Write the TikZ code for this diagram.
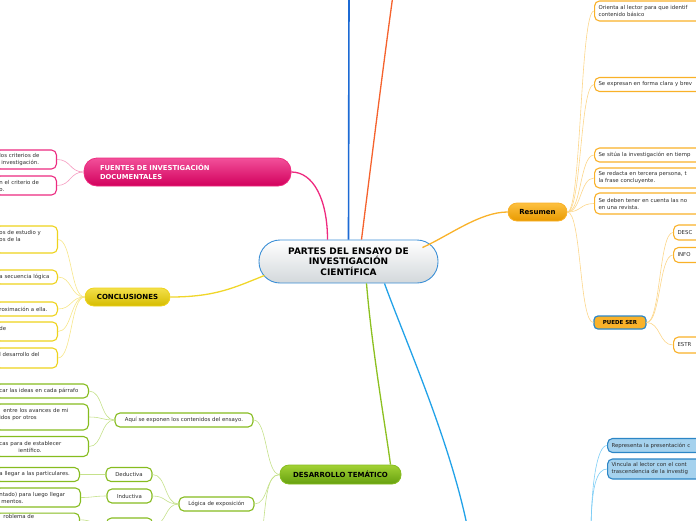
\documentclass[tikz,border=0pt]{standalone}
\usepackage{fontspec}
\setmainfont{DejaVu Sans}
\definecolor{cenblue}{HTML}{3B8FD6}
\definecolor{cengray}{HTML}{D3D8DB}
\definecolor{txtgray}{HTML}{2E2E2E}
\definecolor{pinkA}{HTML}{F2509A}
\definecolor{pinkB}{HTML}{D2005C}
\definecolor{pinkline}{HTML}{EE2A7F}
\definecolor{pinkleaf}{HTML}{EC2A80}
\definecolor{pinktw}{HTML}{F59BC0}
\definecolor{yelA}{HTML}{F3E04A}
\definecolor{yelB}{HTML}{D6BC00}
\definecolor{yelline}{HTML}{F0D62A}
\definecolor{yelleaf}{HTML}{EED31C}
\definecolor{yeltw}{HTML}{F7E68A}
\definecolor{orA}{HTML}{FDC040}
\definecolor{orB}{HTML}{E89A00}
\definecolor{orline}{HTML}{F9B22A}
\definecolor{orleaf}{HTML}{F9B128}
\definecolor{ortw}{HTML}{FCD68A}
\definecolor{redline}{HTML}{F5622D}
\definecolor{grA}{HTML}{A2D234}
\definecolor{grB}{HTML}{66A010}
\definecolor{grline}{HTML}{8CC020}
\definecolor{grleaf}{HTML}{86BC1F}
\definecolor{grtw}{HTML}{C5E18A}
\definecolor{vline}{HTML}{1C6AD4}
\definecolor{cyline}{HTML}{22A2E8}
\definecolor{blleaf}{HTML}{2C86C6}
\definecolor{blfill}{HTML}{A5D2EE}
\definecolor{bltw}{HTML}{7DCDF5}

\begin{document}
\begin{tikzpicture}[x=1pt,y=-1pt,
  central/.style={draw=cenblue,line width=0.9pt,rounded corners=21pt,
    minimum width=179pt,minimum height=43pt,top color=white,bottom color=cengray,
    font=\bfseries\fontsize{9}{10.5}\selectfont,align=center,text=black},
  topic/.style={rounded corners=9pt,line width=0.8pt,inner sep=2pt,
    font=\bfseries\fontsize{7}{9}\selectfont,text=black},
  leaf/.style={draw,fill=white,rounded corners=5pt,line width=1.1pt,inner xsep=4pt,
    inner ysep=2pt,font=\fontsize{5.4}{7}\selectfont,text=txtgray,align=left},
  twig/.style={line width=0.6pt,draw=#1},
  branch/.style={line width=1.3pt,draw=#1}]
\useasboundingbox (0,0) rectangle (696,520);
\clip (0,0) rectangle (696,520);

\node[central] (cen) at (348.5,261.5) {PARTES DEL ENSAYO DE\\INVESTIGACIÓN\\CIENTÍFICA};

\node[topic,rounded corners=13pt,draw=pinkline,top color=pinkA,bottom color=pinkB,
  minimum width=207pt,minimum height=28pt,text=white,align=left,text width=175pt,
  font=\bfseries\fontsize{6.8}{9}\selectfont] (fu) at (187.5,172)
  {FUENTES DE INVESTIGACIÓN\\DOCUMENTALES};
\node[topic,draw=yelleaf,top color=yelA,bottom color=yelB,
  minimum width=85pt,minimum height=18pt] (co) at (127.5,297) {CONCLUSIONES};
\node[topic,draw=orleaf,top color=orA,bottom color=orB,
  minimum width=59pt,minimum height=18pt] (re) at (537.5,212) {Resumen};
\node[topic,draw=grleaf,top color=grA,bottom color=grB,
  minimum width=121pt,minimum height=19pt] (dt) at (340.5,474.5) {DESARROLLO TEMÁTICO};
\node[topic,rounded corners=4pt,draw=blleaf,line width=1.2pt,fill=orline,
  minimum width=52pt,minimum height=13pt,font=\bfseries\fontsize{5.5}{6}\selectfont]
  (ps) at (620,322.5) {PUEDE SER};

\coordinate (bltop) at (349,-5);
\coordinate (ortop) at (393,-5);
\coordinate (cybot) at (468,530);
\coordinate (grbot) at (262,535);
\coordinate (blbot) at (591,535);

\draw[branch=vline,line width=1.6pt] (cen.north) -- (bltop);
\draw[branch=redline] ([xshift=13pt]cen.north) .. controls (374,140) and (384,60) .. (ortop);
\draw[branch=pinkline] (fu.east) .. controls +(22,0) and +(0,-40) .. ([xshift=-21pt]cen.north);
\draw[branch=yelline] (co.east) .. controls +(45,0) and +(-30,12) .. ([xshift=6pt,yshift=8pt]cen.south west);
\draw[branch=orline] ([xshift=-16pt,yshift=-8pt]cen.north east) .. controls (450,235) and (480,212) .. (re.west);
\draw[branch=grline] ([xshift=18pt]cen.south) .. controls (372,350) and (386,430) .. ([xshift=50pt]dt.north);
\draw[branch=cyline] ([xshift=36pt]cen.south) .. controls (405,340) and (450,440) .. (cybot);

\node[leaf,draw=pinkleaf,anchor=east,text width=53pt,minimum height=19pt] (f1) at (57,159.5)
  {los criterios de\\\hspace*{2pt}investigación.};
\node[leaf,draw=pinkleaf,anchor=east,text width=53pt,minimum height=19pt] (f2) at (57,185.5)
  {n el criterio de\\o.};

\node[leaf,draw=yelleaf,anchor=east,text width=54pt,minimum height=27pt] (c1) at (58,239.5)
  {os de estudio y\\os de la\\\mbox{}};
\node[leaf,draw=yelleaf,anchor=east,text width=54pt,minimum height=14pt] (c2) at (58,277)
  {a secuencia lógica};
\node[leaf,draw=yelleaf,anchor=east,text width=54pt,minimum height=14pt] (c3) at (58,309)
  {roximación a ella.};
\node[leaf,draw=yelleaf,anchor=east,text width=54pt,minimum height=19pt] (c4) at (58,331.5)
  {de\\\mbox{}};
\node[leaf,draw=yelleaf,anchor=east,text width=54pt,minimum height=20pt] (c5) at (58,358)
  {l desarrollo del\\\mbox{}};

\node[leaf,draw=orleaf,anchor=west,text width=100pt,minimum height=20pt] (r1) at (594,11)
  {Orienta al lector para que identif\\contenido básico};
\node[leaf,draw=orleaf,anchor=west,text width=100pt,minimum height=14pt] (r2) at (594,84.5)
  {Se expresan en forma clara y brev};
\node[leaf,draw=orleaf,anchor=west,text width=100pt,minimum height=14pt] (r3) at (594,155)
  {Se sitúa la investigación en tiemp};
\node[leaf,draw=orleaf,anchor=west,text width=100pt,minimum height=20pt] (r4) at (594,178)
  {Se redacta en tercera persona, t\\la frase concluyente.};
\node[leaf,draw=orleaf,anchor=west,text width=100pt,minimum height=21pt] (r5) at (594,203.5)
  {Se deben tener en cuenta las no\\en una revista.};
\node[leaf,draw=orleaf,anchor=west,text width=100pt,minimum height=15pt] (p1) at (673,232.5) {DESC};
\node[leaf,draw=orleaf,anchor=west,text width=100pt,minimum height=15pt] (p2) at (673,255) {INFO};
\node[leaf,draw=orleaf,anchor=west,text width=100pt,minimum height=16pt] (p3) at (673,345) {ESTR};

\node[leaf,draw=grleaf,align=center,minimum width=138pt,minimum height=14pt] (aq) at (184,420)
  {Aquí se exponen los contenidos del ensayo.};
\node[leaf,draw=grleaf,anchor=east,text width=85pt,minimum height=14pt] (a1) at (89,391)
  {car las ideas en cada párrafo};
\node[leaf,draw=grleaf,anchor=east,text width=85pt,minimum height=26pt] (a2) at (89,417)
  {\hspace*{4pt}entre los avances de mi\\idos por otros\\\mbox{}};
\node[leaf,draw=grleaf,anchor=east,text width=85pt,minimum height=20pt] (a3) at (89,446.5)
  {cas para de establecer\\\hspace*{19pt}ientífico.};
\node[leaf,draw=grleaf,align=center,minimum width=75pt,minimum height=14pt] (lo) at (216.5,504)
  {Lógica de exposición};
\node[leaf,draw=grleaf,align=center,minimum width=46pt,minimum height=14pt] (de) at (129,474.5)
  {Deductiva};
\node[leaf,draw=grleaf,align=center,minimum width=45pt,minimum height=14pt] (in) at (129.5,496)
  {Inductiva};
\node[leaf,draw=grleaf,minimum width=46pt,minimum height=14pt] (th) at (129.5,525) {};
\node[leaf,draw=grleaf,anchor=east,text width=76pt,minimum height=14pt] (d1) at (80,474.5)
  {a llegar a las particulares.};
\node[leaf,draw=grleaf,anchor=east,text width=77pt,minimum height=19pt] (i1) at (81,497.5)
  {ntado) para luego llegar\\\hspace*{2pt}mentos.};
\node[leaf,draw=grleaf,anchor=north east,text width=76pt,inner ysep=1.2pt] (t1) at (80,512.5)
  {\hspace*{4pt}roblema de\\\mbox{}};

\node[leaf,draw=blleaf,fill=blfill,anchor=west,text width=100pt,minimum height=14pt] (b1) at (607,445.5)
  {Representa la presentación c};
\node[leaf,draw=blleaf,fill=blfill,anchor=west,text width=100pt,minimum height=20pt] (b2) at (607,469)
  {Vincula al lector con el cont\\trascendencia de la investig};

\foreach \c in {f1,f2}
  \draw[twig=pinktw] (fu.west) .. controls +(-14,0) and +(14,0) .. (\c.east);
\foreach \c in {c1,c2,c3,c4,c5}
  \draw[twig=yeltw] (co.west) .. controls +(-14,0) and +(14,0) .. (\c.east);
\foreach \c in {r1,r2,r3,r4,r5,ps}
  \draw[twig=ortw] (re.east) .. controls +(14,0) and +(-14,0) .. (\c.west);
\foreach \c in {p1,p2,p3}
  \draw[twig=ortw] (ps.east) .. controls +(14,0) and +(-14,0) .. (\c.west);
\foreach \c in {aq,lo}
  \draw[twig=grtw] (dt.west) .. controls +(-14,0) and +(14,0) .. (\c.east);
\draw[twig=grtw] (dt.west) .. controls +(-14,0) and +(4,-30) .. (grbot);
\foreach \c in {a1,a2,a3}
  \draw[twig=grtw] (aq.west) .. controls +(-14,0) and +(14,0) .. (\c.east);
\foreach \c in {de,in,th}
  \draw[twig=grtw] (lo.west) .. controls +(-14,0) and +(14,0) .. (\c.east);
\draw[twig=grtw] (de.west) -- (d1.east);
\draw[twig=grtw] (in.west) .. controls +(-12,0) and +(12,0) .. (i1.east);
\draw[twig=grtw] (th.west) .. controls +(-12,0) and +(12,0) .. (t1.east);
\foreach \c in {b1,b2}
  \draw[twig=bltw] (blbot) .. controls +(0,-50) and +(-10,0) .. (\c.west);
\end{tikzpicture}
\end{document}
